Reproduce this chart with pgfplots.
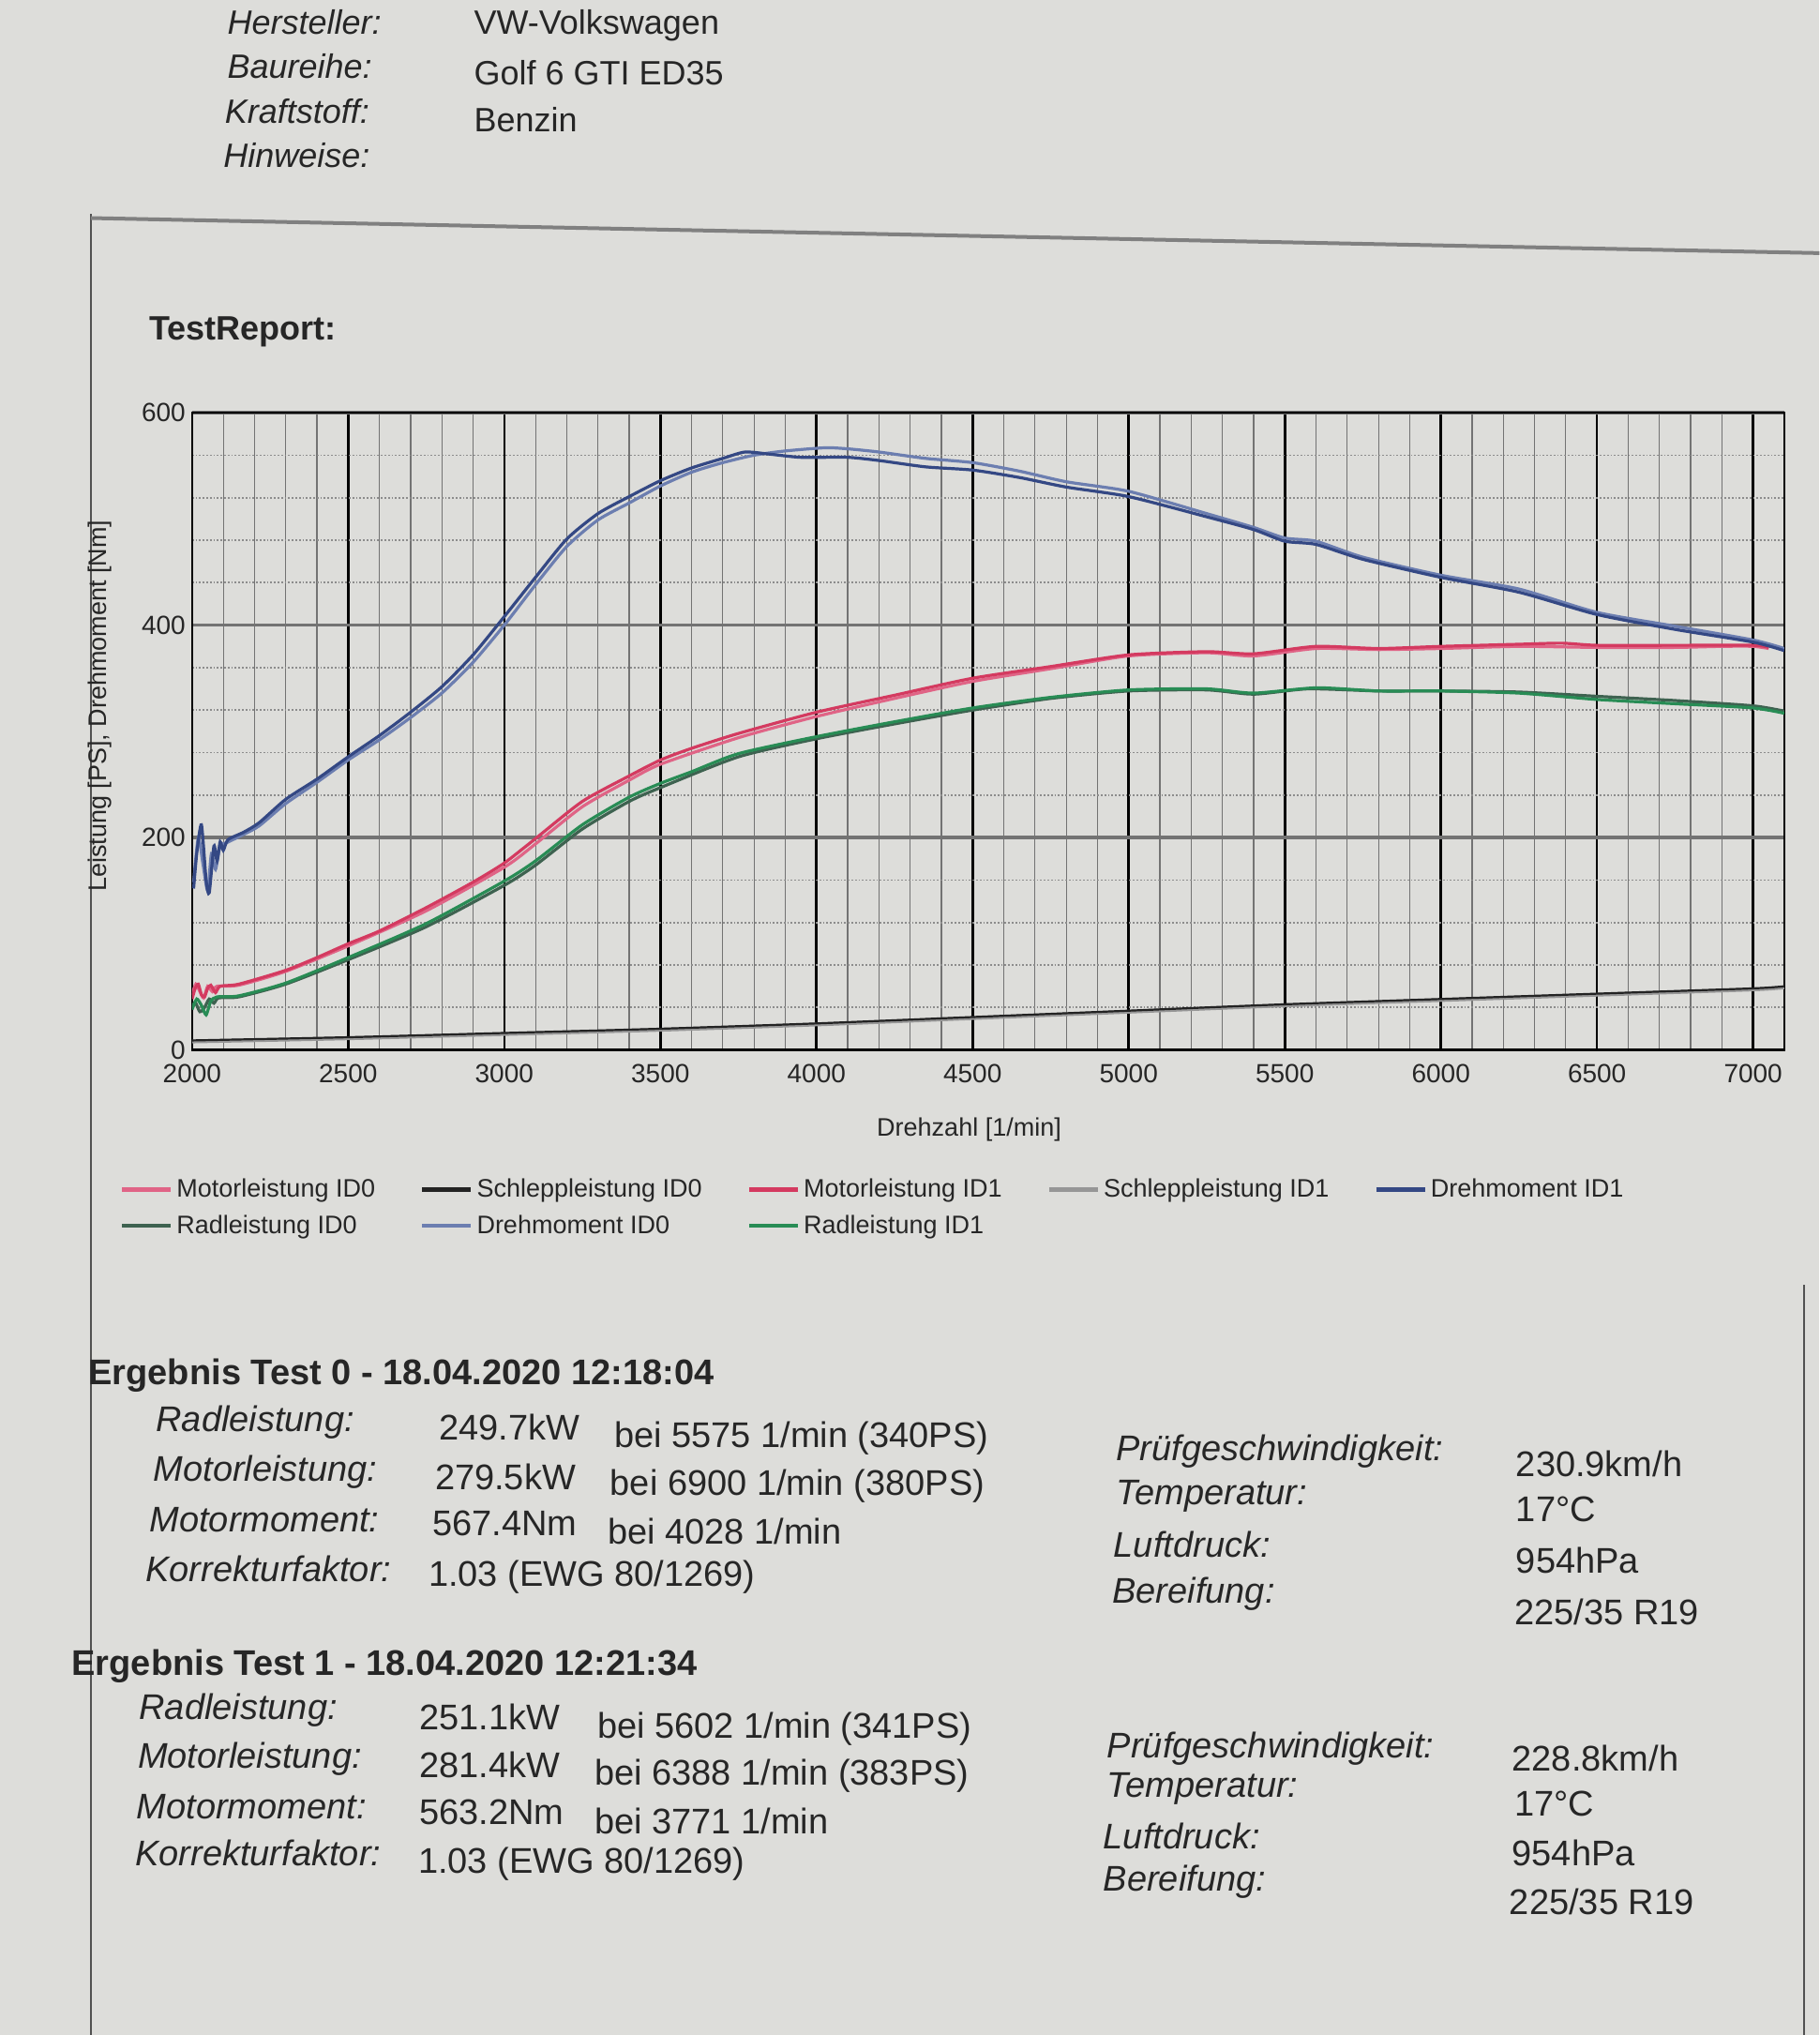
\documentclass[border=0pt]{standalone}
\usepackage{pgfplots}
\pgfplotsset{compat=1.18}
\usepackage{fontspec}
\setmainfont{Liberation Sans}
\definecolor{paper}{RGB}{221,221,218}
\definecolor{ink}{RGB}{38,38,38}
\definecolor{mot0}{RGB}{224,100,134}
\definecolor{mot1}{RGB}{212,58,96}
\definecolor{rad0}{RGB}{62,98,80}
\definecolor{rad1}{RGB}{40,140,85}
\definecolor{dreh0}{RGB}{108,126,176}
\definecolor{dreh1}{RGB}{52,72,132}
\definecolor{schl0}{RGB}{35,35,35}
\definecolor{schl1}{RGB}{150,150,150}
\newcommand{\fs}[1]{\fontsize{#1}{#1}\selectfont}
\begin{document}
\begin{tikzpicture}
\fill[paper] (0,0) rectangle (970pt,-1084.8pt);
\begin{scope}[x=0.69185pt,y=-0.69185pt]
% frame lines
\draw[ink!80,line width=0.8pt] (70,165) -- (70,1568);
\draw[gray,line width=2pt] (70,168) -- (1402,195);
\draw[ink!80,line width=0.8pt] (1390,990) -- (1390,1568);
% header
\begin{scope}[every node/.style={anchor=west,inner sep=0pt,text=ink,font=\fs{18}}]
\node at (175,17) {\itshape Hersteller:};
\node at (365,20) {VW-Volkswagen};
\node at (175,51) {\itshape Baureihe:};
\node at (365,56) {Golf 6 GTI ED35};
\node at (173,86) {\itshape Kraftstoff:};
\node at (365,92) {Benzin};
\node at (172,120) {\itshape Hinweise:};
\node at (115,256) {\bfseries TestReport:};
\end{scope}
% results
\begin{scope}[every node/.style={anchor=west,inner sep=0pt,text=ink,font=\fs{19}}]
\node at (68,1060) {\bfseries Ergebnis Test 0 - 18.04.2020 12:18:04};
\node at (120,1096) {\itshape Radleistung:};
\node at (338,1100) {249.7kW};
\node at (473,1108) {bei 5575 1/min (340PS)};
\node at (118,1134) {\itshape Motorleistung:};
\node at (335,1138) {279.5kW};
\node at (470,1145) {bei 6900 1/min (380PS)};
\node at (115,1171) {\itshape Motormoment:};
\node at (333,1174) {567.4Nm};
\node at (468,1180) {bei 4028 1/min};
\node at (112,1209) {\itshape Korrekturfaktor:};
\node at (330,1215) {1.03 (EWG 80/1269)};
\node at (860,1118) {\itshape Prüfgeschwindigkeit:};
\node at (1168,1128) {230.9km/h};
\node at (860,1153) {\itshape Temperatur:};
\node at (1168,1163) {17°C};
\node at (858,1190) {\itshape Luftdruck:};
\node at (1168,1202) {954hPa};
\node at (857,1228) {\itshape Bereifung:};
\node at (1167,1242) {225/35 R19};
\node at (55,1284) {\bfseries Ergebnis Test 1 - 18.04.2020 12:21:34};
\node at (107,1318) {\itshape Radleistung:};
\node at (323,1323) {251.1kW};
\node at (460,1332) {bei 5602 1/min (341PS)};
\node at (106,1355) {\itshape Motorleistung:};
\node at (323,1360) {281.4kW};
\node at (458,1368) {bei 6388 1/min (383PS)};
\node at (105,1392) {\itshape Motormoment:};
\node at (323,1396) {563.2Nm};
\node at (458,1403) {bei 3771 1/min};
\node at (104,1428) {\itshape Korrekturfaktor:};
\node at (322,1436) {1.03 (EWG 80/1269)};
\node at (853,1347) {\itshape Prüfgeschwindigkeit:};
\node at (1165,1355) {228.8km/h};
\node at (853,1378) {\itshape Temperatur:};
\node at (1167,1390) {17°C};
\node at (850,1415) {\itshape Luftdruck:};
\node at (1165,1428) {954hPa};
\node at (850,1450) {\itshape Bereifung:};
\node at (1163,1465) {225/35 R19};
\end{scope}
\end{scope}
\begin{axis}[
  at={(102.4pt,-559.7pt)}, anchor=south west,
  scale only axis, width=848.9pt, height=339.7pt,
  xmin=2000, xmax=7100, ymin=0, ymax=600,
  xtick={2000,2500,...,7000}, ytick={0,200,400,600},
  minor x tick num=4, minor y tick num=4,
  grid=both,
  major x grid style={black, line width=1.3pt},
  minor x grid style={black!55, line width=0.6pt},
  major y grid style={black!55, line width=1.7pt},
  minor y grid style={black!45, line width=0.9pt, densely dotted},
  tick style={draw=none},
  axis line style={line width=1.3pt, black},
  axis background/.style={fill=paper},
  /pgf/number format/assume math mode=true,
  /pgf/number format/set thousands separator={},
  ticklabel style={font=\fs{14}, text=ink},
  xticklabel style={yshift=-4pt},
  xlabel={Drehzahl [1/min]},
  ylabel={Leistung [PS], Drehmoment [Nm]},
  xlabel style={at={(axis description cs:0.488,-0.125)}, anchor=center, font=\fs{13.5}, text=ink},
  ylabel style={at={(axis description cs:-0.058,0.54)}, anchor=center, font=\fs{13.5}, text=ink},
  legend style={at={(axis description cs:-0.049,-0.19)}, anchor=north west,
    draw=none, fill=none, font=\fs{13.5}, text=ink,
    /tikz/every even column/.append style={column sep=22pt},
    row sep=4pt},
  legend columns=5, legend cell align=left,
  legend image code/.code={\draw[#1,line width=2.2pt] (0pt,0pt) -- (26pt,0pt);},
  every axis plot/.append style={line width=1.6pt, forget plot, smooth, tension=0.4},
]
% Schleppleistung
\addplot[schl1, line width=2pt] coordinates {(2000,8) (2500,11) (3000,15) (3500,19) (4000,24) (4500,30) (5000,36) (5500,42) (6000,47) (6500,52) (7000,57) (7100,59)};
\addplot[schl0, line width=1.1pt] coordinates {(2000,9) (2500,12) (3000,16) (3500,20) (4000,25) (4500,31) (5000,37) (5500,43) (6000,48) (6500,53) (7000,58) (7100,60)};
% Radleistung
\addplot[rad0] coordinates {(2000,40) (2010,45) (2025,36) (2040,40) (2055,48) (2070,44) (2085,49) (2150,50) (2300,62) (2500,85) (2750,116) (3000,155) (3100,174) (3250,208) (3400,234) (3500,247) (3750,276) (4000,293) (4250,307) (4500,320) (4750,331) (5000,338) (5250,339) (5400,335) (5575,340) (5800,338) (6000,338) (6250,337) (6500,333) (6750,329) (7000,324) (7100,319)};
\addplot[rad1] coordinates {(2000,38) (2015,48) (2030,42) (2045,33) (2060,46) (2080,50) (2150,51) (2300,63) (2500,87) (2750,119) (3000,159) (3100,178) (3250,212) (3400,238) (3500,251) (3600,262) (3750,279) (4000,295) (4250,309) (4500,322) (4750,332) (5000,339) (5250,340) (5400,336) (5602,341) (5800,338) (6000,338) (6250,336) (6500,330) (6750,326) (7000,322) (7100,317)};
% Motorleistung
\addplot[mot0] coordinates {(2000,52) (2012,62) (2025,55) (2037,49) (2050,60) (2065,55) (2080,60) (2150,61) (2300,74) (2500,98) (2750,131) (3000,172) (3100,194) (3250,229) (3400,254) (3500,269) (3750,294) (4000,314) (4250,331) (4500,347) (4750,359) (5000,371) (5250,374) (5400,371) (5600,378) (5800,377) (6000,378) (6250,380) (6500,379) (6750,379) (6900,380) (7000,380) (7050,378)};
\addplot[mot1] coordinates {(2000,48) (2010,58) (2020,62) (2030,52) (2040,50) (2050,58) (2060,61) (2075,54) (2090,60) (2150,62) (2300,75) (2400,87) (2500,100) (2600,112) (2750,134) (2900,158) (3000,176) (3100,199) (3250,234) (3400,258) (3500,273) (3600,284) (3750,298) (4000,318) (4250,334) (4500,350) (4750,361) (5000,372) (5250,375) (5400,373) (5600,380) (5800,378) (6000,380) (6250,382) (6388,383) (6500,381) (6750,381) (7000,381) (7050,379)};
% Drehmoment
\addplot[dreh0] coordinates {(2005,158) (2020,200) (2035,175) (2050,150) (2062,185) (2075,170) (2090,192) (2110,195) (2165,203) (2215,211) (2300,232) (2400,252) (2500,273) (2600,292) (2700,313) (2800,336) (2900,365) (3000,400) (3100,438) (3200,474) (3300,499) (3400,515) (3500,531) (3600,544) (3700,553) (3800,560) (3900,564) (4028,567) (4100,566) (4200,563) (4350,557) (4500,553) (4650,545) (4800,535) (5000,526) (5250,505) (5400,492) (5500,482) (5600,479) (5750,464) (6000,447) (6250,434) (6500,412) (6750,399) (7000,386) (7100,378)};
\addplot[dreh1] coordinates {(2005,152) (2015,185) (2030,212) (2045,160) (2055,148) (2070,192) (2080,178) (2090,196) (2100,188) (2115,198) (2165,205) (2215,214) (2300,236) (2400,255) (2500,276) (2600,296) (2700,318) (2800,342) (2900,372) (3000,408) (3100,445) (3200,481) (3300,505) (3400,521) (3500,536) (3600,548) (3700,557) (3771,563) (3850,561) (3950,558) (4100,558) (4200,555) (4350,549) (4500,546) (4650,539) (4800,530) (5000,521) (5250,502) (5400,490) (5500,479) (5600,476) (5750,462) (6000,445) (6250,431) (6500,410) (6750,396) (7000,384) (7100,376)};
% legend (row-major, 5 columns)
\addlegendimage{mot0}\addlegendentry{Motorleistung ID0}
\addlegendimage{schl0}\addlegendentry{Schleppleistung ID0}
\addlegendimage{mot1}\addlegendentry{Motorleistung ID1}
\addlegendimage{schl1}\addlegendentry{Schleppleistung ID1}
\addlegendimage{dreh1}\addlegendentry{Drehmoment ID1}
\addlegendimage{rad0}\addlegendentry{Radleistung ID0}
\addlegendimage{dreh0}\addlegendentry{Drehmoment ID0}
\addlegendimage{rad1}\addlegendentry{Radleistung ID1}
\end{axis}
\pgfresetboundingbox
\path (0,0) rectangle (970pt,-1084.8pt);
\end{tikzpicture}
\end{document}
